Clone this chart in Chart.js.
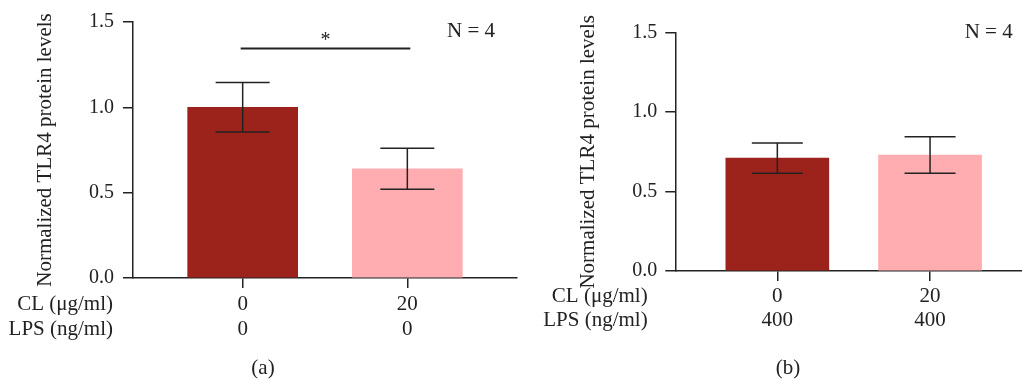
<!DOCTYPE html>
<html>
<head>
<meta charset="utf-8">
<script src="https://cdn.jsdelivr.net/npm/chart.js@4.4.1/dist/chart.umd.min.js"></script>
<style>
  html, body { margin:0; padding:0; background:#fff; }
  body { width:1022px; height:380px; position:relative; overflow:hidden; font-family:"Liberation Serif", serif; }
  .box { position:absolute; top:0; height:380px; }
  .panel { position:absolute; top:355px; font-size:21px; color:#222; transform:translateX(-50%); }
</style>
</head>
<body>
<div class="box" id="boxB" style="left:511px;width:511px"><canvas id="chartB"></canvas></div>
<div class="box" id="boxA" style="left:0;width:520px"><canvas id="chartA"></canvas></div>
<div class="panel" style="left:263px">(a)</div>
<div class="panel" style="left:788px">(b)</div>
<script>
// data
const rowHeaders = ['CL (μg/ml)', 'LPS (ng/ml)'];
const clA = ['0', '20'];
const lpsA = ['0', '0'];
const meanA = [1.00, 0.64];
const semA = [0.145, 0.12];

const clB = ['0', '20'];
const lpsB = ['400', '400'];
const meanB = [0.71, 0.73];
const semB = [0.095, 0.115];

const yTicks = [0, 0.5, 1.0, 1.5];
const sigA = [{from:0, to:1, label:'*', y:1.345}];
const nLabel = 'N = 4';
const barColors = ['#9c221c', '#ffadb0'];

const FONT = '"Liberation Serif", serif';
const INK = '#222';
Chart.defaults.font.family = FONT;
Chart.defaults.color = INK;

// error bars, significance bar, N label and the row headers
const extras = {
  id: 'extras',
  afterDatasetsDraw(chart, args, o) {
    const ctx = chart.ctx, xs = chart.scales.x, ys = chart.scales.y;
    ctx.save();
    ctx.strokeStyle = INK;
    ctx.lineWidth = 1.5;
    o.means.forEach((m, i) => {
      const x = xs.getPixelForValue(i);
      const yt = ys.getPixelForValue(m + o.sem[i]);
      const yb = ys.getPixelForValue(m - o.sem[i]);
      ctx.beginPath();
      ctx.moveTo(x, yt); ctx.lineTo(x, yb);
      ctx.moveTo(x - o.cap, yt); ctx.lineTo(x + o.cap, yt);
      ctx.moveTo(x - o.cap, yb); ctx.lineTo(x + o.cap, yb);
      ctx.stroke();
    });
    ctx.fillStyle = INK;
    (o.sig || []).forEach(s => {
      const x1 = xs.getPixelForValue(s.from) - 2, x2 = xs.getPixelForValue(s.to) + 3;
      const y = ys.getPixelForValue(s.y);
      ctx.lineWidth = 2;
      ctx.beginPath(); ctx.moveTo(x1, y); ctx.lineTo(x2, y); ctx.stroke();
      ctx.font = '20px ' + FONT;
      ctx.textAlign = 'center'; ctx.textBaseline = 'middle';
      ctx.fillText(s.label, (x1 + x2) / 2, y - 8);
    });
    ctx.font = '21px ' + FONT;
    ctx.textAlign = 'right'; ctx.textBaseline = 'middle';
    ctx.fillText(nLabel, chart.chartArea.right - o.nRight, chart.chartArea.top + o.nTop);
    // row headers, on the same lines as the x tick labels
    const lh = o.lineH;
    const top = xs.top + 10 + o.tickPad;
    rowHeaders.forEach((t, i) => {
      ctx.fillText(t, chart.chartArea.left - o.headGap, top + lh * (i + 0.5));
    });
    ctx.restore();
  }
};

function makeChart(id, cl, lps, means, sem, cfg) {
  return new Chart(document.getElementById(id), {
    type: 'bar',
    data: {
      datasets: [{
        data: means.map((m, i) => ({x: i, y: m})),
        backgroundColor: barColors,
        barThickness: cfg.barW,
        borderWidth: 0
      }]
    },
    options: {
      responsive: true,
      maintainAspectRatio: false,
      animation: false,
      layout: { padding: { top: cfg.top, right: cfg.right, bottom: 0, left: 0 } },
      plugins: {
        legend: { display: false },
        tooltip: { enabled: false },
        extras: { means, sem, cap: cfg.cap, sig: cfg.sig, nRight: cfg.nRight, nTop: cfg.nTop,
                  lineH: cfg.lineH, tickPad: 4, headGap: cfg.headGap }
      },
      scales: {
        x: {
          type: 'linear',
          offset: false,
          min: cfg.xmin, max: cfg.xmax,
          afterBuildTicks: s => { s.ticks = cl.map((c, i) => ({value: i})); },
          afterFit: s => { s.height = cfg.xh; },
          ticks: {
            autoSkip: false, maxRotation: 0, padding: 4,
            font: { size: 21, lineHeight: cfg.lineH / 21 },
            callback: (v) => [cl[v], lps[v]]
          },
          grid: { offset: false, drawOnChartArea: false, tickLength: 10, color: INK, lineWidth: 1.5 },
          border: { display: true, color: INK, width: 1.5 }
        },
        y: {
          min: 0, max: 1.5,
          afterBuildTicks: s => { s.ticks = yTicks.map(v => ({value: v})); },
          afterFit: s => { s.width = cfg.yw; },
          ticks: { padding: cfg.yPad, font: { size: 20 }, callback: v => v.toFixed(1) },
          grid: { drawOnChartArea: false, tickLength: 10, color: INK, lineWidth: 1.5 },
          border: { display: true, color: INK, width: 1.5 },
          title: { display: true, text: 'Normalized TLR4 protein levels', font: { size: 21 },
                   padding: { top: cfg.titleTop, bottom: 0 } }
        }
      }
    },
    plugins: [extras]
  });
}

makeChart('chartA', clA, lpsA, meanA, semA, {
  barW: 110, cap: 27, top: 22, right: 3, xh: 102, yw: 133, xmin: -0.666, xmax: 1.666,
  sig: sigA, nRight: 22, nTop: 9, lineH: 25, headGap: 20, yPad: 9, titleTop: 33
});
makeChart('chartB', clB, lpsB, meanB, semB, {
  barW: 103, cap: 25.5, top: 32.7, right: 0, xh: 109, yw: 164.3, xmin: -0.668, xmax: 1.602,
  sig: [], nRight: 9.3, nTop: 0, lineH: 23.5, headGap: 27.6, yPad: 8, titleTop: 65
});
</script>
</body>
</html>
